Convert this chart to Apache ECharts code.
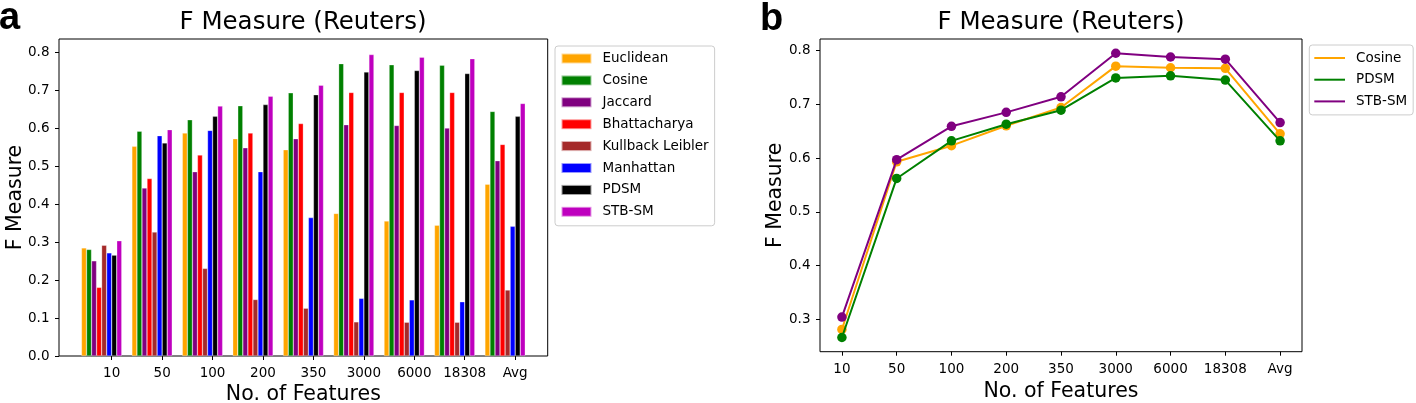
<!DOCTYPE html>
<html><head><meta charset="utf-8">
<script src="https://cdn.jsdelivr.net/npm/echarts@6/dist/echarts.min.js"></script>
<style>
html,body{margin:0;padding:0;background:#fff;width:1416px;height:403px;overflow:hidden}
#a{position:absolute;left:0;top:0;width:750px;height:403px}
#b{position:absolute;left:750px;top:0;width:666px;height:403px}
</style>
</head><body><div id="a"></div><div id="b"></div>
<script>
// ---- data ----
const categories = ['10', '50', '100', '200', '350', '3000', '6000', '18308', 'Avg'];
const barNames = ['Euclidean', 'Cosine', 'Jaccard', 'Bhattacharya', 'Kullback Leibler', 'Manhattan', 'PDSM', 'STB-SM'];
const euclidean       = [0.285, 0.553, 0.588, 0.573, 0.544, 0.376, 0.356, 0.345, 0.453];
const cosine          = [0.281, 0.593, 0.623, 0.660, 0.694, 0.771, 0.768, 0.767, 0.645];
const jaccard         = [0.251, 0.443, 0.486, 0.549, 0.573, 0.610, 0.608, 0.601, 0.515];
const bhattacharya    = [0.181, 0.468, 0.530, 0.588, 0.613, 0.695, 0.695, 0.695, 0.558];
const kullbackLeibler = [0.292, 0.327, 0.231, 0.149, 0.126, 0.090, 0.089, 0.089, 0.174];
const manhattan       = [0.272, 0.581, 0.595, 0.486, 0.365, 0.152, 0.148, 0.143, 0.342];
const pdsm            = [0.266, 0.562, 0.632, 0.663, 0.689, 0.749, 0.753, 0.745, 0.632];
const stbsm           = [0.304, 0.597, 0.659, 0.685, 0.714, 0.795, 0.788, 0.784, 0.666];
const lineNames = ['Cosine', 'PDSM', 'STB-SM'];
const yTicksBar  = [0.0, 0.1, 0.2, 0.3, 0.4, 0.5, 0.6, 0.7, 0.8];
const yTicksLine = [0.3, 0.4, 0.5, 0.6, 0.7, 0.8];
const titleText = 'F Measure (Reuters)';
const xName = 'No. of Features';
const yName = 'F Measure';

// ---- styles ----
const FONT = 'DejaVu Sans';
const barColors = ['#ffa500', '#008000', '#800080', '#ff0000', '#a52a2a', '#0000ff', '#000000', '#bf00bf'];
const lineColors = ['#ffa500', '#008000', '#800080'];
const barValues = [euclidean, cosine, jaccard, bhattacharya, kullbackLeibler, manhattan, pdsm, stbsm];
const lineValues = [cosine, pdsm, stbsm];
const TICK_SHIFT = 0.2; // tick offset from bar group centre (as in original)

function axisCommon() {
  return {
    axisLine: { show: false, onZero: false },
    splitLine: { show: false },
    axisTick: { show: true, length: 4, lineStyle: { color: '#000', width: 1 } },
    axisLabel: { color: '#000', fontSize: 13.5, fontFamily: FONT },
    nameTextStyle: { color: '#000', fontSize: 20.5, fontFamily: FONT },
    nameLocation: 'middle',
    nameMoveOverlap: false
  };
}

// ---- chart a ----
const chartA = echarts.init(document.getElementById('a'));
const XMIN_A = -0.845, XMAX_A = 8.845, YMAX_A = 0.836;
const GA = { left: 59, top: 39, width: 488.7, height: 317 };
const unitA = GA.width / (XMAX_A - XMIN_A);
const xTickPosA = categories.map((c, i) => i + TICK_SHIFT);
const xA = Object.assign(axisCommon(), {
  type: 'value', gridIndex: 0, min: XMIN_A, max: XMAX_A, name: xName, nameGap: 28
});
xA.axisTick.customValues = xTickPosA;
xA.axisLabel.customValues = xTickPosA;
xA.axisLabel.margin = 10.5;
xA.axisLabel.formatter = v => categories[Math.round(v - TICK_SHIFT)];
const yA = Object.assign(axisCommon(), {
  type: 'value', gridIndex: 0, min: 0, max: YMAX_A, name: yName, nameGap: 33
});
yA.axisTick.customValues = yTicksBar;
yA.axisLabel.customValues = yTicksBar;
yA.axisLabel.margin = 9.5;
yA.axisLabel.formatter = v => v.toFixed(1);

chartA.setOption({
  animation: false,
  textStyle: { fontFamily: FONT },
  grid: [
    Object.assign({ show: true, borderColor: '#000', borderWidth: 1, backgroundColor: 'transparent', containLabel: false, outerBoundsMode: 'none' }, GA),
    { left: GA.left + (-0.5 - XMIN_A) * unitA, top: GA.top, width: categories.length * unitA, height: GA.height, show: false, containLabel: false, outerBoundsMode: 'none' }
  ],
  xAxis: [
    xA,
    { type: 'category', gridIndex: 1, data: categories, show: false, boundaryGap: true }
  ],
  yAxis: [
    yA,
    { type: 'value', gridIndex: 1, min: 0, max: YMAX_A, show: false, splitLine: { show: false } }
  ],
  legend: {
    data: barNames, orient: 'vertical', left: 555, top: 46,
    icon: 'rect', itemWidth: 30, itemHeight: 10, itemGap: 7.9,
    padding: [5.5, 6, 7, 5.5],
    backgroundColor: '#fff', borderColor: '#cccccc', borderWidth: 1, borderRadius: 3,
    selectedMode: false,
    textStyle: { fontSize: 13.5, color: '#000', fontFamily: FONT, padding: [0, 0, 0, 6] }
  },
  graphic: [
    { type: 'text', x: -1, y: 18.5, style: { text: 'a', font: 'bold 38px "Liberation Sans"', fill: '#000', verticalAlign: 'middle' } },
    { type: 'text', x: 303, y: 23, style: { text: titleText, font: '24.5px "DejaVu Sans"', fill: '#000', align: 'center', verticalAlign: 'middle' } }
  ],
  series: barNames.map((n, k) => ({
    type: 'bar', name: n, xAxisIndex: 1, yAxisIndex: 1,
    data: barValues[k],
    barWidth: '10%', barGap: '0%',
    itemStyle: { color: barColors[k], borderColor: 'rgba(255,255,255,0.6)', borderWidth: 0.5 }
  }))
});

// ---- chart b ----
const chartB = echarts.init(document.getElementById('b'));
const xTickPosB = categories.map((c, i) => i);
const xB = Object.assign(axisCommon(), {
  type: 'value', min: -0.4, max: 8.4, name: xName, nameGap: 29
});
xB.axisTick.customValues = xTickPosB;
xB.axisLabel.customValues = xTickPosB;
xB.axisLabel.margin = 10.5;
xB.axisLabel.formatter = v => categories[Math.round(v)];
const yB = Object.assign(axisCommon(), {
  type: 'value', min: 0.2396, max: 0.8215, name: yName, nameGap: 34
});
yB.axisTick.customValues = yTicksLine;
yB.axisLabel.customValues = yTicksLine;
yB.axisLabel.margin = 9.5;
yB.axisLabel.formatter = v => v.toFixed(1);

chartB.setOption({
  animation: false,
  textStyle: { fontFamily: FONT },
  grid: { left: 70, top: 39, width: 482, height: 312.7, show: true, borderColor: '#000', borderWidth: 1, backgroundColor: 'transparent', containLabel: false, outerBoundsMode: 'none' },
  xAxis: xB,
  yAxis: yB,
  legend: {
    data: lineNames, orient: 'vertical', left: 559.3, top: 45,
    icon: 'rect', itemWidth: 30.7, itemHeight: 2, itemGap: 7.7,
    padding: [6, 6, 6.5, 5],
    backgroundColor: '#fff', borderColor: '#cccccc', borderWidth: 1, borderRadius: 3,
    selectedMode: false,
    textStyle: { fontSize: 13.5, color: '#000', fontFamily: FONT, padding: [0, 0, 0, 6] }
  },
  graphic: [
    { type: 'text', x: 10, y: 20, style: { text: 'b', font: 'bold 38px "Liberation Sans"', fill: '#000', verticalAlign: 'middle' } },
    { type: 'text', x: 311, y: 23, style: { text: titleText, font: '24.5px "DejaVu Sans"', fill: '#000', align: 'center', verticalAlign: 'middle' } }
  ],
  series: lineNames.map((n, k) => ({
    type: 'line', name: n,
    data: lineValues[k].map((v, i) => [i, v]),
    symbol: 'circle', symbolSize: 9.5,
    lineStyle: { width: 2, color: lineColors[k] },
    itemStyle: { color: lineColors[k] },
    z: 2 + k
  }))
});
</script>
</body></html>
